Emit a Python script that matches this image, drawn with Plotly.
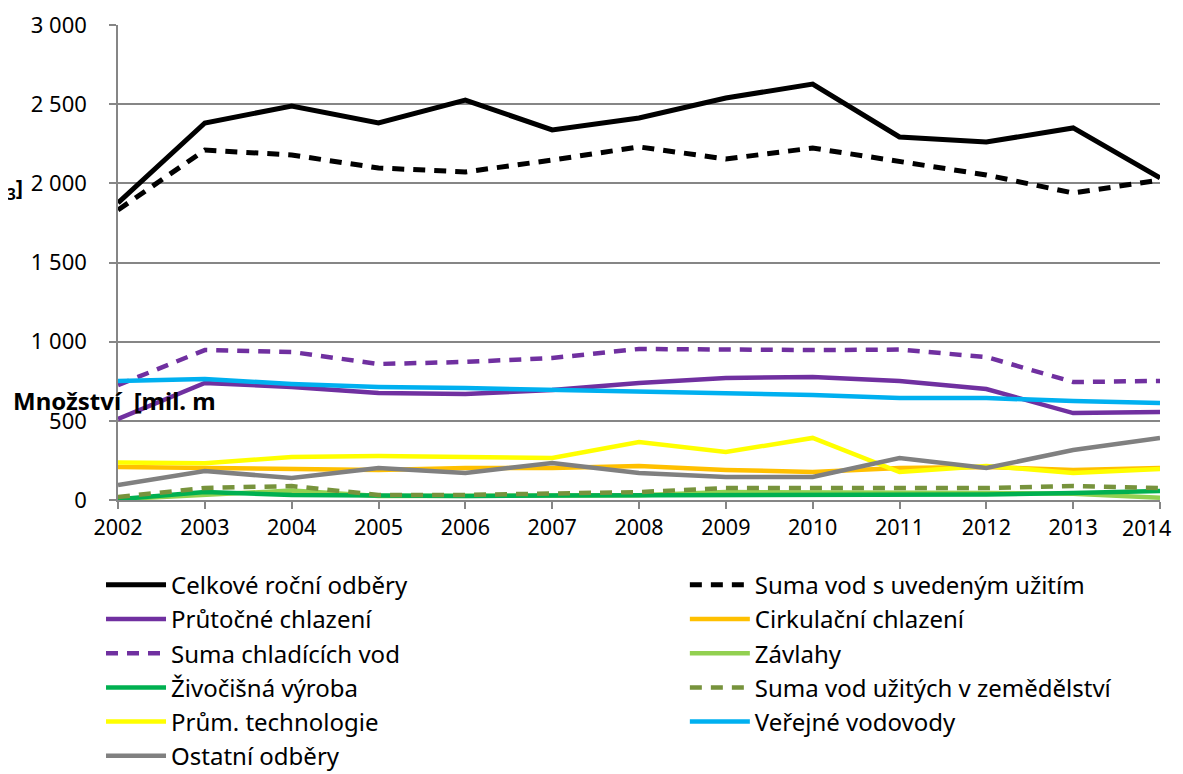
import plotly.graph_objects as go

years = list(range(2002, 2015))
year_labels = [str(y) for y in years]

celkove = [1876, 2381, 2488, 2381, 2526, 2337, 2413, 2539, 2627, 2293, 2261, 2350, 2034]
suma_uzitim = [1832, 2210, 2179, 2097, 2072, 2147, 2230, 2154, 2223, 2135, 2053, 1939, 2021]
prutocne = [512, 739, 714, 676, 670, 695, 739, 770, 777, 752, 701, 549, 556]
cirkulacni = [208, 202, 202, 190, 202, 202, 215, 190, 177, 202, 208, 190, 202]
suma_chladici = [726, 947, 935, 859, 872, 897, 954, 947, 947, 950, 903, 745, 752]
zavlahy = [5, 30, 60, 25, 25, 30, 30, 50, 50, 50, 45, 40, 15]
zivocisna = [5, 50, 32, 25, 25, 28, 30, 35, 35, 35, 35, 45, 57]
suma_zemedelstvi = [19, 76, 88, 32, 32, 44, 50, 76, 76, 76, 76, 88, 76]
prum_technologie = [237, 232, 272, 278, 272, 265, 366, 303, 392, 177, 215, 171, 196]
verejne_vodovody = [752, 764, 733, 714, 707, 695, 682, 676, 663, 644, 644, 625, 613]
ostatni = [95, 183, 139, 202, 171, 234, 171, 145, 145, 265, 202, 316, 392]

# (name, values, color, dash, width, legend column)
series = [
    ("Celkové roční odběry", celkove, "#000000", "solid", 5, "legend"),
    ("Suma vod s uvedeným užitím", suma_uzitim, "#000000", "12px,9px", 5, "legend2"),
    ("Průtočné chlazení", prutocne, "#7030A0", "solid", 4.5, "legend"),
    ("Cirkulační chlazení", cirkulacni, "#FFC000", "solid", 4.5, "legend2"),
    ("Suma chladících vod", suma_chladici, "#7030A0", "12px,9px", 4.5, "legend"),
    ("Závlahy", zavlahy, "#92D050", "solid", 4.5, "legend2"),
    ("Živočišná výroba", zivocisna, "#00B050", "solid", 4.5, "legend"),
    ("Suma vod užitých v zemědělství", suma_zemedelstvi, "#77933C", "12px,9px", 4.5, "legend2"),
    ("Prům. technologie", prum_technologie, "#FFFF00", "solid", 4.5, "legend"),
    ("Veřejné vodovody", verejne_vodovody, "#00B0F0", "solid", 4.5, "legend2"),
    ("Ostatní odběry", ostatni, "#808080", "solid", 4.5, "legend"),
]

fig = go.Figure()
for i, (name, vals, color, dash, w, leg) in enumerate(series):
    fig.add_trace(go.Scatter(
        x=years, y=vals, name=name, mode="lines",
        line=dict(color=color, width=w, dash=dash),
        legend=leg, legendgroup=f"g{i}",
    ))

font_family = "Noto Sans, Open Sans, sans-serif"

legend_common = dict(
    orientation="v",
    xanchor="left", yanchor="top",
    y=-0.132,
    font=dict(size=24, family=font_family),
    itemwidth=60,
    tracegroupgap=1,
    traceorder="normal",
    bgcolor="rgba(0,0,0,0)",
)

# last year label is drawn as an annotation so that it stays inside the page
tick_text = year_labels[:-1] + [""]

fig.update_layout(
    width=1175, height=766,
    margin=dict(l=110, r=23, t=17, b=274, autoexpand=False),
    paper_bgcolor="white", plot_bgcolor="white",
    separators=", ",
    font=dict(family=font_family, color="#000000", size=22),
    showlegend=True,
    legend=dict(x=-0.0163, **legend_common),
    legend2=dict(x=0.544, **legend_common),
    xaxis=dict(
        range=[2002, 2014],
        tickmode="array", tickvals=years, ticktext=tick_text,
        showgrid=False,
        showline=True, linecolor="#868686", linewidth=1.5,
        ticks="outside", ticklen=7, tickcolor="#868686", tickwidth=1.5,
        tickfont=dict(size=21.5),
        zeroline=False,
    ),
    yaxis=dict(
        range=[0, 3000],
        tickvals=[0, 500, 1000, 1500, 2000, 2500, 3000],
        tickformat=",d",
        showgrid=True, gridcolor="#868686", gridwidth=1.5,
        showline=True, linecolor="#868686", linewidth=1.5,
        ticks="outside", ticklen=7, tickcolor="#868686", tickwidth=1.5,
        tickfont=dict(size=22),
        ticklabelstandoff=18,
        ticklabeloverflow="allow",
        zeroline=False,
    ),
)

fig.add_annotation(
    text=year_labels[-1], xref="x", yref="paper",
    x=years[-1], y=0, xanchor="right", yanchor="top",
    xshift=13, yshift=-11,
    showarrow=False, font=dict(size=21.5, family=font_family),
)

fig.add_annotation(
    text="<b>Množství  [mil. m</b>", xref="paper", yref="paper",
    x=-0.1023, y=(500 - 400) / 475, xanchor="left", yanchor="middle",
    showarrow=False, font=dict(size=24, family=font_family),
)
fig.add_annotation(
    text="<b><sub>3</sub>]</b>", xref="paper", yref="paper",
    x=-0.108, y=(500 - 188) / 475, xanchor="left", yanchor="middle",
    showarrow=False, font=dict(size=22, family=font_family),
)

fig.write_html("out.html")
